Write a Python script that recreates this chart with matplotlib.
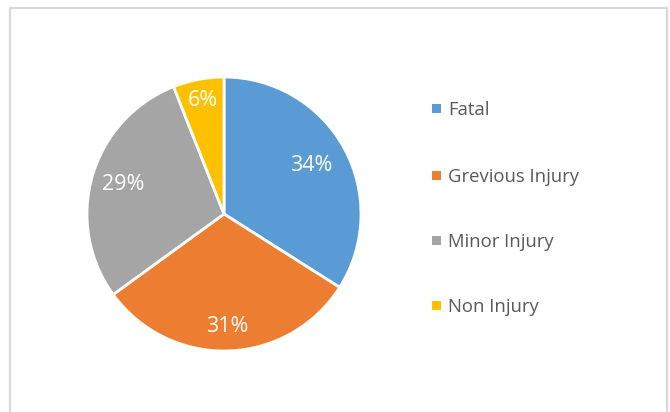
import numpy as np
import matplotlib
matplotlib.use("Agg")
import matplotlib.pyplot as plt
from matplotlib.patches import Rectangle

categories = ["Fatal", "Grevious Injury", "Minor Injury", "Non Injury"]
values = [34, 31, 29, 6]
colors = ["#5B9BD5", "#ED7D31", "#A5A5A5", "#FFC000"]
label_dist = [0.73, 0.82, 0.77, 0.84]

W, H = 670, 412
fig = plt.figure(figsize=(W / 100, H / 100), dpi=100)
fig.patch.set_facecolor("white")

# chart border (bottom edge runs off the image)
fig.add_artist(Rectangle((9.5 / W, -0.05), (667 - 9.5) / W, (H - 8) / H + 0.05,
                         transform=fig.transFigure, fill=False,
                         edgecolor="#d9d9d9", linewidth=1.6))

cx, cy, r = 224, 214, 137
ax = fig.add_axes([(cx - r) / W, (H - cy - r) / H, 2 * r / W, 2 * r / H])
wedges, texts, autotexts = ax.pie(
    values, colors=colors, startangle=90, counterclock=False,
    autopct=lambda p: f"{p:.0f}%", pctdistance=0.75,
    wedgeprops=dict(edgecolor="white", linewidth=2),
    textprops=dict(color="white", fontsize=15.5, family="Open Sans"),
)
for w, t, d in zip(wedges, autotexts, label_dist):
    ang = np.deg2rad((w.theta1 + w.theta2) / 2)
    t.set_position((d * np.cos(ang), d * np.sin(ang)))
ax.set_xlim(-1.0, 1.0)
ax.set_ylim(-1.0, 1.0)
ax.set_aspect("equal")
ax.axis("off")

# legend
baselines = [115, 182, 247, 312]
for cat, col, yb in zip(categories, colors, baselines):
    yc = yb - 7
    fig.add_artist(Rectangle((432 / W, (H - yc - 4.5) / H), 8.5 / W, 8.5 / H,
                             transform=fig.transFigure, facecolor=col,
                             edgecolor="none"))
    fig.text(448 / W, (H - yb) / H, cat, color="#595959", fontsize=13.3,
             family="Open Sans", va="baseline", ha="left")

fig.savefig("out.png", dpi=100)
